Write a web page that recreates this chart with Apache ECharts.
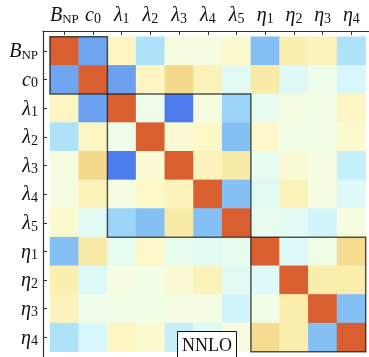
<!DOCTYPE html>
<html><head><meta charset="utf-8">
<script src="https://cdn.jsdelivr.net/npm/echarts@6/dist/echarts.min.js"></script>
<style>html,body{margin:0;padding:0;background:#fff}#c{width:369px;height:357px}</style>
</head><body><div id="c"></div>
<script>
// categories (main symbol, subscript)
var categories = ['B_NP','c_0','λ_1','λ_2','λ_3','λ_4','λ_5','η_1','η_2','η_3','η_4'];
// correlation rows
var rowBNP = [ 1.00,-0.60, 0.15,-0.30, 0.03, 0.03, 0.10,-0.50, 0.25, 0.18,-0.30];
var rowC0  = [-0.60, 1.00,-0.62, 0.15, 0.45, 0.20,-0.08, 0.30,-0.10,-0.02,-0.13];
var rowL1  = [ 0.15,-0.62, 1.00,-0.02,-0.80, 0.02,-0.38,-0.05, 0.02, 0.00, 0.15];
var rowL2  = [-0.30, 0.15,-0.02, 1.00, 0.08, 0.13,-0.50, 0.12, 0.00, 0.00, 0.10];
var rowL3  = [ 0.03, 0.45,-0.80, 0.08, 1.00, 0.18, 0.30,-0.05, 0.08, 0.02,-0.20];
var rowL4  = [ 0.03, 0.20, 0.02, 0.13, 0.18, 1.00,-0.50,-0.08, 0.20, 0.02,-0.10];
var rowL5  = [ 0.10,-0.08,-0.38,-0.50, 0.30,-0.50, 1.00,-0.05,-0.08,-0.15, 0.03];
var rowE1  = [-0.50, 0.30,-0.05, 0.12,-0.05,-0.08,-0.05, 1.00,-0.10, 0.00, 0.42];
var rowE2  = [ 0.25,-0.10, 0.02, 0.00, 0.08, 0.20,-0.08,-0.10, 1.00, 0.28, 0.28];
var rowE3  = [ 0.18,-0.02, 0.00, 0.00, 0.02, 0.02,-0.15, 0.00, 0.28, 1.00,-0.50];
var rowE4  = [-0.30,-0.13, 0.15, 0.10,-0.20,-0.10, 0.03, 0.42, 0.28,-0.50, 1.00];
var rows = [rowBNP,rowC0,rowL1,rowL2,rowL3,rowL4,rowL5,rowE1,rowE2,rowE3,rowE4];
// blocks outlined (first index, last index)
var blocks = [[0,1],[2,6],[7,10]];
var annotation = 'NNLO';

var cells = [];
rows.forEach(function(r, i){ r.forEach(function(v, j){ cells.push([j, i, v]); }); });

function fmt(name){
  var p = name.split('_');
  var sub = p[1];
  var key = /^[0-9]+$/.test(sub) ? 'n' : 'r';
  return '{m|' + p[0] + '}{' + key + '|' + sub + '}';
}
var serif = 'Liberation Serif';
var rich = {
  m: {fontFamily: serif, fontStyle: 'italic', fontSize: 20, lineHeight: 22, color: '#111', verticalAlign: 'bottom'},
  r: {fontFamily: serif, fontSize: 13, lineHeight: 14, color: '#111', verticalAlign: 'bottom'},
  n: {fontFamily: serif, fontSize: 14, lineHeight: 14, color: '#111', verticalAlign: 'bottom'}
};

var chart = echarts.init(document.getElementById('c'), null, {renderer: 'canvas'});
chart.setOption({
  animation: false,
  backgroundColor: '#fff',
  grid: [
    {left: 50, top: 36.7, width: 315.7, height: 315, containLabel: false},
    {left: 43, top: 31, right: -30, bottom: -30}
  ],
  xAxis: [
    {type: 'category', gridIndex: 0, data: categories, position: 'top', offset: 5.7,
     axisLine: {show: false}, splitLine: {show: false},
     axisTick: {show: true, inside: true, length: 4, alignWithLabel: true, interval: 0, lineStyle: {color: '#333'}},
     axisLabel: {margin: 5, interval: 0, hideOverlap: false, formatter: fmt, rich: rich}},
    {type: 'value', gridIndex: 1, position: 'top', min: 0, max: 1,
     axisLine: {show: true, lineStyle: {color: '#333', width: 1.2}}, axisTick: {show: false},
     axisLabel: {show: false}, splitLine: {show: false}}
  ],
  yAxis: [
    {type: 'category', gridIndex: 0, data: categories, inverse: true, position: 'left', offset: 7,
     axisLine: {show: false}, splitLine: {show: false},
     axisTick: {show: true, inside: true, length: 4, alignWithLabel: true, interval: 0, lineStyle: {color: '#333'}},
     axisLabel: {margin: 5, interval: 0, hideOverlap: false, formatter: fmt, rich: rich}},
    {type: 'value', gridIndex: 1, position: 'left', min: 0, max: 1, inverse: true,
     axisLine: {show: true, lineStyle: {color: '#333', width: 1.2}}, axisTick: {show: false},
     axisLabel: {show: false}, splitLine: {show: false}}
  ],
  visualMap: {
    show: false, type: 'continuous', min: -1, max: 1, seriesIndex: 0, dimension: 2,
    inRange: {color: ['#2e55d8','#4070e8','#5585f0','#6aa0f0','#85c0f5','#9dd6f8','#b8eaf9','#d8f8fc',
                      '#f2fde6','#fdf8c8','#fcf0b0','#f7e29a','#f2d282','#eab868','#e49a55','#de7c42','#d95f30']}
  },
  title: {
    text: annotation, left: 177, top: 331,
    padding: [6, 5, 12, 5], borderColor: '#111', borderWidth: 1, backgroundColor: '#fff',
    textStyle: {fontFamily: serif, fontWeight: 'normal', fontSize: 18, lineHeight: 18, color: '#111'}
  },
  series: [
    {type: 'heatmap', xAxisIndex: 0, yAxisIndex: 0, data: cells, itemStyle: {borderWidth: 0}, emphasis: {disabled: true}},
    {type: 'custom', xAxisIndex: 0, yAxisIndex: 0, data: blocks, z: 5, silent: true,
     renderItem: function(params, api){
       var s = api.value(0), e = api.value(1);
       var c = api.coord([s, s]);
       var sz = api.size([1, 1]);
       var n = e - s + 1;
       return {type: 'rect',
         shape: {x: c[0] - sz[0]/2, y: c[1] - sz[1]/2, width: sz[0]*n, height: sz[1]*n},
         style: {fill: 'none', stroke: 'rgba(30,30,30,0.75)', lineWidth: 1.5}};
     }}
  ]
});
</script></body></html>
